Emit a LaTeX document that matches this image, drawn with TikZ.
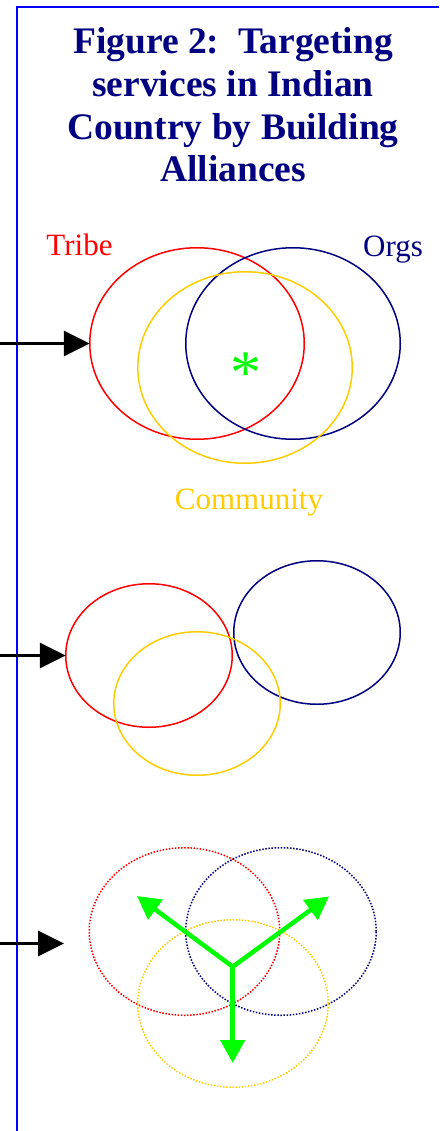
\documentclass[tikz,border=0pt]{standalone}
\usepackage{fontspec}
\setmainfont{Liberation Serif}
\usetikzlibrary{shapes.geometric,arrows.meta}
\definecolor{navyc}{RGB}{0,0,128}
\definecolor{goldc}{RGB}{255,204,0}
\definecolor{greenc}{RGB}{0,255,0}
\definecolor{bluec}{RGB}{0,0,255}
\definecolor{redc}{RGB}{255,0,0}
\begin{document}
\begin{tikzpicture}[x=1pt,y=-1pt,
  ell/.style={ellipse,draw,line width=1.5pt,inner sep=0pt,outer sep=0pt},
  bigell/.style={ell,minimum width=214.5pt,minimum height=191.5pt},
  midell/.style={ell,minimum width=166.5pt,minimum height=143.5pt},
  lowell/.style={ell,minimum width=190.5pt,minimum height=167.5pt,dash pattern=on 1.5pt off 1.6pt},
  titletext/.style={anchor=base,text=navyc,font=\fontsize{37.5}{43}\selectfont\bfseries,inner sep=0pt},
  labeltext/.style={anchor=base,font=\fontsize{31}{37}\selectfont,inner sep=0pt},
  blkarrow/.style={line width=3.5pt,-{Triangle[length=26pt,width=25pt]}},
  grnarrow/.style={draw=greenc,line width=4.5pt,-{Triangle[length=23pt,width=24pt]}}]
\useasboundingbox (0,0) rectangle (439,1131);
% border
\draw[bluec,line width=2pt] (17,1131) -- (17,7.5) -- (439,7.5);
% title
\node[titletext] (t1) at (233,54) {Figure 2:\ \ Targeting};
\node[titletext] (t2) at (233,97) {services in Indian};
\node[titletext] (t3) at (233,140) {Country by Building};
\node[titletext] (t4) at (233,182) {Alliances};
% top set
\node[bigell,draw=redc] (redA) at (197,343.5) {};
\node[bigell,draw=navyc] (navA) at (293,343.5) {};
\node[bigell,draw=goldc] (goldA) at (245,367.5) {};
\node[labeltext,text=redc] (tribe) at (79.5,256) {Tribe};
\node[labeltext,text=navyc] (orgs) at (393,257) {Orgs};
\node[labeltext,text=goldc] (comm) at (249,509) {Community};
\node[text=greenc,font=\fontsize{62}{62}\selectfont,inner sep=0pt] (star) at (246,373) {*};
\coordinate (a1) at (0,343.5);
\draw[blkarrow] (a1) -- (redA.west);
% middle set
\node[midell,draw=redc] (redB) at (149,655.5) {};
\node[midell,draw=navyc] (navB) at (317,632.5) {};
\node[midell,draw=goldc] (goldB) at (197,703.5) {};
\coordinate (a2) at (0,655.5);
\draw[blkarrow] (a2) -- (redB.west);
% bottom set
\node[lowell,draw=redc] (redC) at (184.5,931.5) {};
\node[lowell,draw=navyc] (navC) at (281,931.5) {};
\node[lowell,draw=goldc] (goldC) at (233,1003.5) {};
\coordinate (a3) at (0,943.5);
\coordinate (a3e) at (64,943.5);
\draw[blkarrow] (a3) -- (a3e);
\coordinate (gc) at (232.7,966.7);
\coordinate (g1) at (137,896);
\coordinate (g2) at (329,896.5);
\coordinate (g3) at (232.7,1063);
\draw[grnarrow] (gc) -- (g1);
\draw[grnarrow] (gc) -- (g2);
\draw[grnarrow] (gc) -- (g3);
\end{tikzpicture}
\end{document}
